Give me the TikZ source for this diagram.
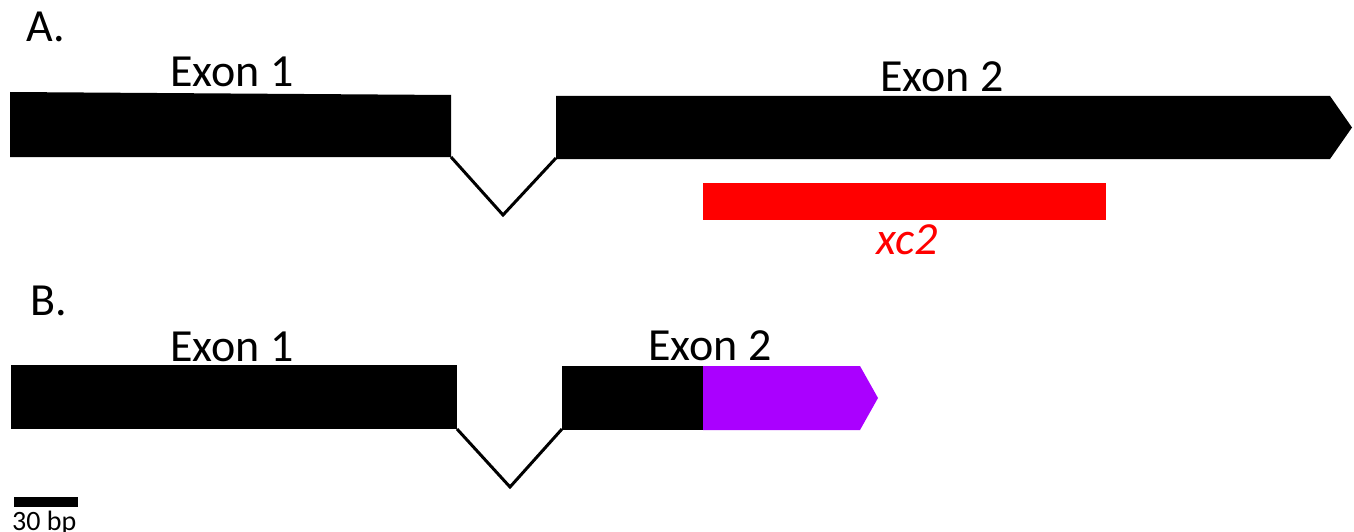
\documentclass[tikz,border=0pt]{standalone}
\usepackage{fontspec}
\setmainfont{Carlito}
\definecolor{exonpurple}{HTML}{AA00FF}
\definecolor{xcred}{HTML}{FF0000}
\begin{document}
\begin{tikzpicture}[x=1pt,y=-1pt,
  lbl/.style={inner sep=0pt,font=\fontsize{46}{50}\selectfont},
  small/.style={inner sep=0pt,font=\fontsize{28}{30}\selectfont},
  exonfill/.style={fill=black,draw=none},
  intron/.style={draw=black,line width=3pt,line join=miter}]
\useasboundingbox (0,0) rectangle (1354,532);
% Panel A
\node[lbl,anchor=base west] (la) at (26,42) {A.};
\node[lbl,anchor=base] (e1a) at (232,87) {Exon 1};
\node[lbl,anchor=base] (e2a) at (942,92) {Exon 2};
\coordinate (a1r) at (451,157);
\coordinate (av) at (503,215);
\coordinate (a2l) at (556,158);
\fill[exonfill] (10,92) -- (451,95) -- (a1r) -- (10,157) -- cycle;
\fill[exonfill] (a2l|-0,96) -- (1330,96) -- (1352,127.5) -- (1330,159) -- (a2l|-0,159) -- cycle;
\draw[intron] (a1r) -- (av) -- (a2l);
\fill[xcred] (703,183) rectangle (1106,220);
\node[lbl,anchor=base,text=xcred,font=\fontsize{46}{50}\selectfont\itshape] (xc) at (907,254) {xc2};
% Panel B
\node[lbl,anchor=base west] (lb) at (30,315) {B.};
\node[lbl,anchor=base] (e1b) at (232,361) {Exon 1};
\node[lbl,anchor=base] (e2b) at (710,360) {Exon 2};
\coordinate (b1r) at (457,429);
\coordinate (bv) at (510,487);
\coordinate (b2l) at (562,429);
\fill[exonfill] (11,365) rectangle (b1r);
\fill[exonfill] (562,366) rectangle (703,430);
\fill[exonpurple] (703,366) -- (860,366) -- (878,398) -- (860,430) -- (703,430) -- cycle;
\draw[intron] (b1r) -- (bv) -- (b2l);
% scale bar
\fill[black] (14,497) rectangle (78,507);
\node[small,anchor=base west] (sb) at (12,530) {30 bp};
\end{tikzpicture}
\end{document}
